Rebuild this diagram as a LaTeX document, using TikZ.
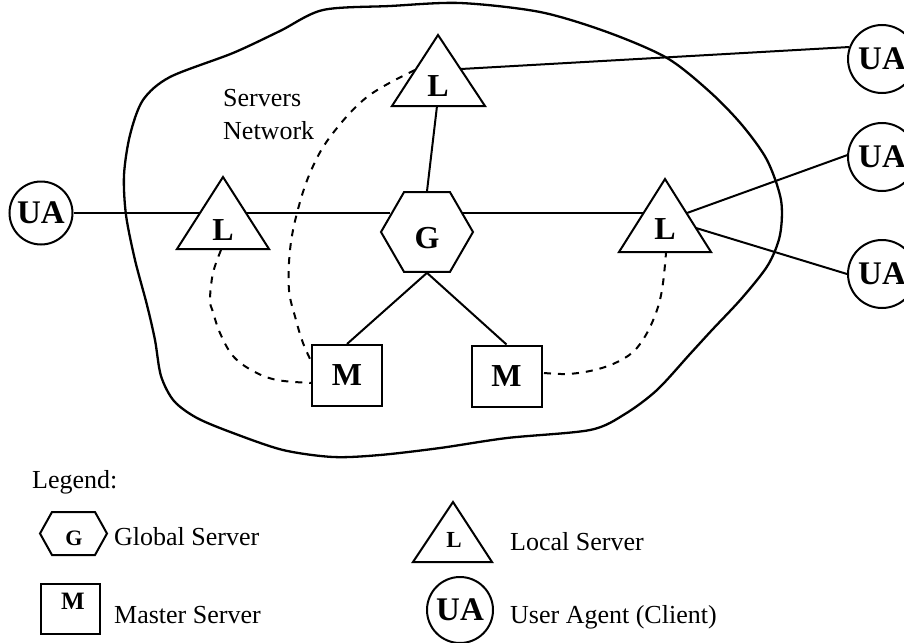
\documentclass[tikz,border=0pt]{standalone}
\usepackage{fontspec}
\setmainfont{Liberation Serif}
\usetikzlibrary{shapes.geometric}
\begin{document}
\begin{tikzpicture}[x=1pt,y=-1pt,
  edge/.style={line width=2pt},
  dashedge/.style={line width=2pt, dash pattern=on 7pt off 7pt},
  shp/.style={draw, line width=2pt, line join=miter},
  ltr/.style={inner sep=0pt, font=\fontsize{32}{32}\selectfont\bfseries},
  smallltr/.style={inner sep=0pt, font=\fontsize{23}{23}\selectfont\bfseries},
  uac/.style={circle, draw, line width=2pt, inner sep=0pt, minimum size=68pt, font=\fontsize{33}{33}\selectfont\bfseries},
  hexnode/.style={regular polygon, regular polygon sides=6, draw, line width=2pt, inner sep=0pt, minimum size=92pt},
  mbox/.style={rectangle, draw, line width=2pt, inner sep=0pt, minimum width=70pt, minimum height=61pt},
  lbl/.style={inner sep=0pt, font=\fontsize{26}{31}\selectfont}
]
\useasboundingbox (0,0) rectangle (904,642);

% servers network boundary
\draw[line width=2.3pt] plot[smooth cycle, tension=0.5] coordinates {
 (323,10) (390,6) (460,3) (540,12) (607,32) (667,58) (710,92) (742,125) (767,160)
 (781,200) (780,235) (768,265) (742,298) (712,330) (690,354) (657,390)
 (625,414) (590,430) (507,438) (440,448) (380,455) (333,457) (283,450)
 (233,433) (197,418) (174,401) (161,376) (155,340) (147,305) (135,260)
 (126,215) (124,175) (130,135) (143,100) (170,77) (233,53) (280,31)};

\node[lbl, anchor=base west] (srv) at (223,106) {Servers};
\node[lbl, anchor=base west] (net) at (223,139) {Network};

% local servers (triangles)
\draw[shp] (438,35) -- (485,106) -- (392,106) -- cycle;
\node[ltr] (Lt) at (438,86) {L};
\draw[shp] (223,177) -- (269,249) -- (177,249) -- cycle;
\node[ltr] (Ll) at (223,230) {L};
\draw[shp] (665,179) -- (711,252) -- (619,252) -- cycle;
\node[ltr] (Lr) at (665,229) {L};

% global server
\node[hexnode] (G) at (427,232) {};
\node[ltr] (Gt) at (427,238) {G};

% master servers
\node[mbox, font=\fontsize{32}{32}\selectfont\bfseries] (Ml) at (347,375.5) {M};
\node[mbox, font=\fontsize{32}{32}\selectfont\bfseries] (Mr) at (506.5,376) {M};

% user agents
\node[uac, minimum size=63pt] (ua1) at (41,213) {UA};
\node[uac] (uaT) at (882,59) {UA};
\node[uac] (uaM) at (882,157) {UA};
\node[uac] (uaB) at (882,274) {UA};

% connection points on triangles
\coordinate (LlW) at (200,213);
\coordinate (LlE) at (246,213);
\coordinate (GW) at (390,213);
\coordinate (GE) at (463,213);
\coordinate (LrW) at (643,213);
\coordinate (LrE1) at (687,213);
\coordinate (LrE2) at (696,228);
\coordinate (LtB) at (437,106);
\coordinate (LtE) at (461,69);
\coordinate (LtW) at (415,70);
\coordinate (LlB) at (221,250);
\coordinate (LrB) at (666,253);
\coordinate (MlW1) at (312,363);
\coordinate (MlW2) at (312,383);
\coordinate (MrE) at (544,373);

% solid connectors
\draw[edge] (ua1.east) -- (LlW);
\draw[edge] (LlE) -- (GW);
\draw[edge] (GE) -- (LrW);
\draw[edge] (G.north) -- (LtB);
\draw[edge] (LtE) -- (uaT.160);
\draw[edge] (LrE1) -- (uaM.177);
\draw[edge] (LrE2) -- (uaB.west);
\draw[edge] (G.south) -- (Ml.north);
\draw[edge] (G.south) -- (Mr.north);

% dashed connectors
\draw[dashedge] plot[smooth, tension=0.6] coordinates {
 (LtW) (367,97) (330,137) (310,173) (297,213) (290,250) (289,290) (296,320) (303,343) (MlW1)};
\draw[dashedge] plot[smooth, tension=0.6] coordinates {
 (LlB) (213,273) (210,300) (213,312) (220,333) (233,356) (253,371) (277,380) (MlW2)};
\draw[dashedge] plot[smooth, tension=0.6] coordinates {
 (MrE) (567,374) (590,371) (613,364) (633,352) (647,333) (658,307) (663,283) (LrB)};

% legend
\node[lbl, anchor=base west] (leg) at (32,488) {Legend:};
\draw[shp] (40,533.5) -- (52,512) -- (95,512) -- (107,533.5) -- (95,555) -- (52,555) -- cycle;
\node[smallltr, font=\fontsize{22}{22}\selectfont\bfseries] (lgG) at (74,538) {G};
\node[lbl, anchor=base west] (lgGt) at (114,545) {Global Server};
\node[rectangle, draw, line width=2pt, minimum width=59pt, minimum height=50pt] (lgMb) at (70.5,609) {};
\node[smallltr, font=\fontsize{25}{25}\selectfont\bfseries] (lgM) at (73,601) {M};
\node[lbl, anchor=base west] (lgMt) at (114,623) {Master Server};
\draw[shp] (453,502) -- (492,562) -- (413,562) -- cycle;
\node[smallltr] (lgL) at (454,540) {L};
\node[lbl, anchor=base west] (lgLt) at (510,550) {Local Server};
\node[uac, minimum size=66pt] (lgU) at (460,610) {UA};
\node[lbl, anchor=base west] (lgUt) at (510,623) {User Agent (Client)};
\end{tikzpicture}
\end{document}
